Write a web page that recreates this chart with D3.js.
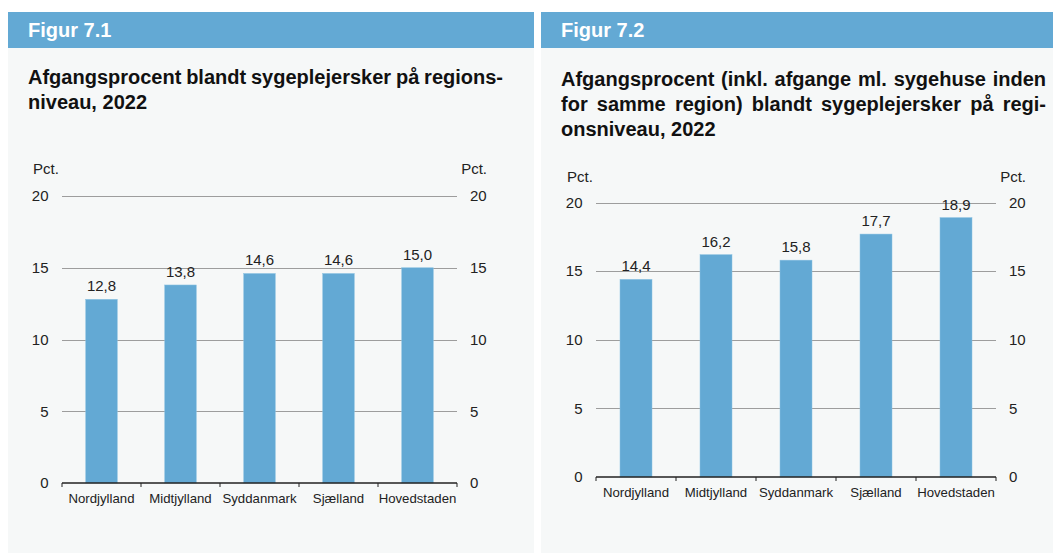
<!DOCTYPE html>
<html>
<head>
<meta charset="utf-8">
<script src="https://cdn.jsdelivr.net/npm/d3@7"></script>
<style>
  html, body { margin: 0; padding: 0; background: #fff; }
  svg { display: block; font-family: "Liberation Sans", Arial, Helvetica, sans-serif; }
</style>
</head>
<body>
<svg id="chart" width="1053" height="553"></svg>
<script>
// data
const regions = ['Nordjylland', 'Midtjylland', 'Syddanmark', 'Sjælland', 'Hovedstaden'];
const afgang2022 = [12.8, 13.8, 14.6, 14.6, 15.0];
const afgangInkl2022 = [14.4, 16.2, 15.8, 17.7, 18.9];
const yTicks = [0, 5, 10, 15, 20];
const figLabels = ['Figur 7.1', 'Figur 7.2'];
const titles1 = ['Afgangsprocent blandt sygeplejersker på regions-', 'niveau, 2022'];
const titles2 = ['Afgangsprocent (inkl. afgange ml. sygehuse inden', 'for samme region) blandt sygeplejersker på regi-', 'onsniveau, 2022'];

const blue = '#63a9d4',
    panelBg = '#f6f8f8',
    gridCol = '#9d9d9d',
    fmt = v => d3.format('.1f')(v).replace('.', ',');

const svg = d3.select('#chart');

// writes a justified paragraph, last line left aligned
function titleBlock(g, lines, x, width, y0, lh) {
    lines.forEach((line, li) => {
        let words = line.split(' '),
            y = y0 + li * lh;
        let nodes = words.map(w => g.append('text')
            .attr('y', y)
            .attr('font-size', 20)
            .attr('font-weight', 'bold')
            .attr('fill', '#111')
            .text(w));
        let widths = nodes.map(n => n.node().getComputedTextLength());
        let total = d3.sum(widths);
        let gap = (li < lines.length - 1 && words.length > 1) ? (width - total) / (words.length - 1) : 5.6;
        let cx = x;
        nodes.forEach((n, i) => {
            n.attr('x', cx);
            cx += widths[i] + gap;
        });
    });
}

function panel(cfg) {
    let g = svg.append('g');

    g.append('rect').attr('x', cfg.left).attr('y', 48).attr('width', cfg.right - cfg.left).attr('height', 505).attr('fill', panelBg);
    g.append('rect').attr('x', cfg.left).attr('y', 12).attr('width', cfg.right - cfg.left).attr('height', 36).attr('fill', blue);
    g.append('text').attr('x', cfg.textX).attr('y', 37).attr('fill', '#fff')
        .attr('font-size', 20).attr('font-weight', 'bold').text(cfg.fig);

    titleBlock(g, cfg.title, cfg.textX, cfg.titleW, cfg.titleY, 25);

    let y = d3.scaleLinear().domain([0, 20]).range([cfg.y0, cfg.y20]);
    let xb = d3.scaleBand().domain(regions).range([cfg.x0, cfg.x1]);
    let x = d3.scaleBand().domain(regions).range([cfg.x0, cfg.x1]).paddingInner(0.6).paddingOuter(0.3);

    // gridlines
    g.append('g').selectAll('line').data(yTicks.filter(t => t > 0)).enter()
        .append('line')
        .attr('x1', cfg.x0).attr('x2', cfg.x1)
        .attr('y1', d => Math.round(y(d)) + 0.5).attr('y2', d => Math.round(y(d)) + 0.5)
        .attr('stroke', gridCol).attr('stroke-width', 1);

    // y labels both sides
    let yl = d3.axisLeft(y).tickValues(yTicks).tickSize(0).tickPadding(13.5);
    let yr = d3.axisRight(y).tickValues(yTicks).tickSize(0).tickPadding(13);
    [[yl, cfg.x0], [yr, cfg.x1]].forEach(([ax, tx]) => {
        let a = g.append('g').attr('transform', 'translate(' + tx + ',0)').call(ax);
        a.select('.domain').remove();
        a.selectAll('text').attr('font-size', 15).attr('fill', '#222').attr('font-family', null);
    });
    g.append('text').attr('x', cfg.x0 - 29).attr('y', cfg.pctY).attr('font-size', 15).attr('fill', '#222').text('Pct.');
    g.append('text').attr('x', cfg.x1 + 30).attr('y', cfg.pctY).attr('text-anchor', 'end').attr('font-size', 15).attr('fill', '#222').text('Pct.');

    // bars
    g.append('g').selectAll('rect').data(cfg.values).enter()
        .append('rect')
        .attr('x', (d, i) => x(regions[i]))
        .attr('width', x.bandwidth())
        .attr('y', d => y(d))
        .attr('height', d => y(0) - y(d))
        .attr('fill', blue)
        .attr('stroke', '#8cc2e2').attr('stroke-width', 0.5);

    g.append('g').selectAll('text').data(cfg.values).enter()
        .append('text')
        .attr('x', (d, i) => x(regions[i]) + x.bandwidth() / 2)
        .attr('y', d => y(d) - 8)
        .attr('text-anchor', 'middle')
        .attr('font-size', 15).attr('fill', '#222')
        .text(fmt);

    // x axis
    let xa = g.append('g').attr('transform', 'translate(0,' + cfg.y0 + ')')
        .call(d3.axisBottom(xb).tickSize(0).tickPadding(11));
    xa.select('.domain').attr('stroke', '#222').attr('stroke-width', 1.5).attr('d', 'M' + cfg.x0 + ',0H' + cfg.x1);
    xa.selectAll('text').attr('font-size', 13.2).attr('fill', '#222').attr('font-family', null);
    g.append('g').selectAll('line').data(d3.range(regions.length + 1)).enter()
        .append('line')
        .attr('x1', i => cfg.x0 + i * xb.step()).attr('x2', i => cfg.x0 + i * xb.step())
        .attr('y1', cfg.y0).attr('y2', cfg.y0 + 4)
        .attr('stroke', '#222').attr('stroke-width', 1);
}

panel({
    left: 8, right: 534, textX: 28, titleW: 475, titleY: 84,
    fig: figLabels[0], title: titles1, values: afgang2022,
    x0: 62, x1: 457, y0: 483, y20: 196, pctY: 174
});

panel({
    left: 541, right: 1053, textX: 561, titleW: 485, titleY: 86,
    fig: figLabels[1], title: titles2, values: afgangInkl2022,
    x0: 596, x1: 996, y0: 477, y20: 202.5, pctY: 182
});
</script>
</body>
</html>
